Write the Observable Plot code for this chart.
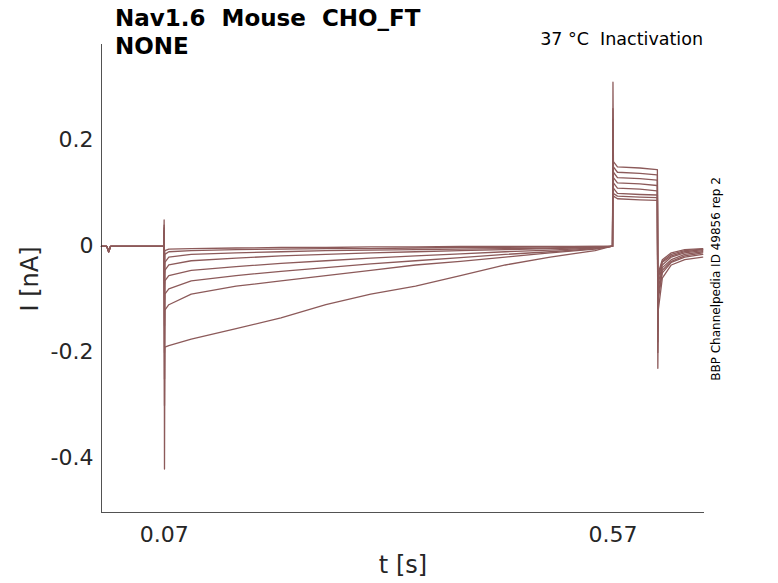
<!DOCTYPE html>
<html><head><meta charset="utf-8">
<script src="https://cdn.jsdelivr.net/npm/d3@7"></script>
<script src="https://cdn.jsdelivr.net/npm/@observablehq/plot@0.6"></script>
<style>body{margin:0;font-family:"DejaVu Sans",sans-serif;background:#fff}
#wrap{position:relative;width:778px;height:583px}
.t{position:absolute;color:#000}
</style></head><body><div id="wrap"></div>
<script>
const times = [0,0.006,0.008,0.010,0.0695,0.0698,0.0702,0.0706,0.075,0.1,0.15,0.2,0.25,0.3,0.35,0.4,0.45,0.5,0.55,0.568,0.5695,0.5700,0.5705,0.575,0.6,0.619,0.6195,0.6200,0.6205,0.625,0.635,0.65,0.67];
const traces = [
 [0,0,-0.01,0,0,0.05,-0.42,-0.19,-0.187,-0.175,-0.155,-0.135,-0.11,-0.09,-0.075,-0.055,-0.035,-0.02,-0.008,0,0,0.31,0.16,0.15,0.148,0.145,0.145,-0.23,-0.12,-0.06,-0.035,-0.025,-0.02],
 [0,0,-0.01,0,0,0.04,-0.3,-0.12,-0.11,-0.09,-0.075,-0.065,-0.055,-0.045,-0.035,-0.028,-0.02,-0.012,-0.005,0,0,0.26,0.15,0.14,0.138,0.135,0.135,-0.2,-0.1,-0.05,-0.03,-0.02,-0.015],
 [0,0,-0.01,0,0,0.035,-0.25,-0.09,-0.08,-0.065,-0.055,-0.047,-0.04,-0.033,-0.027,-0.021,-0.015,-0.01,-0.004,0,0,0.24,0.14,0.13,0.128,0.125,0.125,-0.18,-0.09,-0.045,-0.028,-0.018,-0.012],
 [0,0,-0.01,0,0,0.03,-0.2,-0.065,-0.055,-0.045,-0.038,-0.032,-0.027,-0.022,-0.018,-0.014,-0.01,-0.007,-0.003,0,0,0.22,0.13,0.12,0.118,0.115,0.115,-0.16,-0.08,-0.04,-0.025,-0.015,-0.01],
 [0,0,-0.01,0,0,0.03,-0.15,-0.045,-0.035,-0.027,-0.022,-0.018,-0.015,-0.012,-0.01,-0.008,-0.006,-0.004,-0.002,0,0,0.2,0.12,0.11,0.108,0.105,0.105,-0.15,-0.07,-0.035,-0.02,-0.012,-0.008],
 [0,0,-0.01,0,0,0.025,-0.1,-0.03,-0.02,-0.015,-0.012,-0.01,-0.008,-0.007,-0.006,-0.005,-0.004,-0.003,-0.001,0,0,0.19,0.11,0.1,0.098,0.097,0.097,-0.14,-0.06,-0.03,-0.018,-0.01,-0.006],
 [0,0,-0.01,0,0,0.02,-0.07,-0.015,-0.01,-0.008,-0.006,-0.005,-0.004,-0.004,-0.003,-0.002,-0.002,-0.001,0,0,0,0.18,0.1,0.095,0.093,0.092,0.092,-0.13,-0.055,-0.028,-0.015,-0.008,-0.005],
 [0,0,-0.01,0,0,0.02,-0.05,-0.008,-0.005,-0.004,-0.003,-0.002,-0.002,-0.001,-0.001,0,0,0,0,0,0,0.17,0.095,0.09,0.088,0.087,0.087,-0.12,-0.05,-0.025,-0.012,-0.006,-0.004]
];
const xTicks = [0.07, 0.57];
const yTicks = [-0.4, -0.2, 0, 0.2];
const rows = [];
traces.forEach((tr, k) => tr.forEach((v, i) => rows.push({k, t: times[i], I: v})));
const col = "#8c5a5a";
const chart = Plot.plot({
  width: 778, height: 583,
  marginLeft: 101, marginRight: 74, marginTop: 44, marginBottom: 71,
  style: {fontFamily: "DejaVu Sans", color: "#262626"},
  x: {domain: [0, 0.672], label: null},
  y: {domain: [-0.502, 0.381], label: null},
  marks: [
    Plot.axisX(xTicks, {tickSize: 0, tickPadding: 14, fontSize: 22, tickFormat: d => String(d), label: null}),
    Plot.axisY(yTicks, {tickSize: 0, tickPadding: 8, fontSize: 22, tickFormat: d => String(d), label: null}),
    Plot.line(rows, {x: "t", y: "I", z: "k", stroke: col, strokeWidth: 1.3}),
    Plot.ruleX([0], {stroke: "#262626", strokeWidth: 0.8}),
    Plot.ruleY([-0.502], {stroke: "#262626", strokeWidth: 0.8})
  ]
});
const w = document.getElementById("wrap");
w.appendChild(chart);
chart.style.position="absolute";chart.style.left="0";chart.style.top="0";
w.insertAdjacentHTML("beforeend", `
<div class="t" style="left:115px;top:4px;font-weight:bold;font-size:23px;line-height:28px">Nav1.6&nbsp; Mouse&nbsp; CHO_FT<br>NONE</div>
<div class="t" style="right:75px;top:29px;font-size:17.5px">37 °C&nbsp; Inactivation</div>
<div class="t" style="left:403px;top:551px;font-size:24px;color:#262626;transform:translateX(-50%)">t [s]</div>
<div class="t" style="left:30px;top:279px;font-size:24px;color:#262626;transform:translate(-50%,-50%) rotate(-90deg);white-space:nowrap">I [nA]</div>
<div class="t" style="left:716px;top:279px;font-size:12px;transform:translate(-50%,-50%) rotate(-90deg);white-space:nowrap">BBP Channelpedia ID 49856 rep 2</div>
`);
</script></body></html>
